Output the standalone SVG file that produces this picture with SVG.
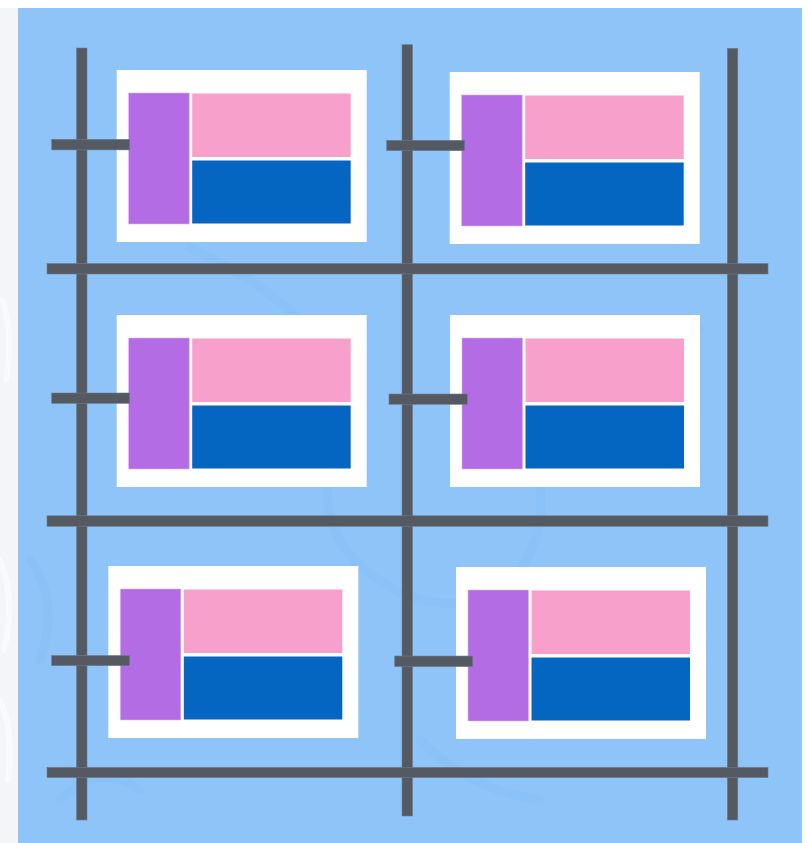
<svg xmlns="http://www.w3.org/2000/svg" width="809" height="843" viewBox="0 0 809 843">
  <style>
    .bar { fill: #545962; stroke: #6b7d90; stroke-width: 0.6; }
    .card { fill: #ffffff; }
    .purple { fill: #b36ce3; stroke: #d9b3f0; stroke-width: 0.6; }
    .pink { fill: #f8a0cc; }
    .blue { fill: #0466c0; }
    .wm { fill: none; stroke: #84bdf6; stroke-width: 9; opacity: 0.35; stroke-linecap: round; }
    .wmg { fill: none; stroke: #ffffff; stroke-width: 6; opacity: 0.5; stroke-linecap: round; }
  </style>
  <defs>
    <g id="cardTpl">
      <rect class="card" x="0" y="0" width="250" height="172"/>
      <rect class="purple" x="12" y="23" width="60.5" height="131"/>
      <rect class="pink" x="75.5" y="23.5" width="158.5" height="63.5"/>
      <rect class="blue" x="75.5" y="90.5" width="158.5" height="63"/>
    </g>
  </defs>

  <!-- page background -->
  <rect x="0" y="0" width="809" height="843" fill="#ffffff"/>
  <rect x="0" y="8" width="18" height="835" fill="#f4f5f7"/>
  <path class="wmg" d="M2 300 Q14 330 6 380 M0 560 Q16 600 4 650 M0 700 Q14 730 8 780"/>
  <rect x="18" y="8" width="784" height="835" fill="#8ec4f8"/>

  <!-- faint watermark -->
  <g id="watermark">
    <path class="wm" d="M190 248 Q300 300 330 360"/>
    <path class="wm" d="M330 460 Q310 560 420 600 Q520 620 540 520 Q550 440 470 420"/>
    <path class="wm" d="M700 330 Q620 300 580 360"/>
    <path class="wm" d="M30 560 Q60 600 40 660"/>
    <path class="wm" d="M420 740 Q470 790 540 800"/>
    <path class="wm" d="M60 800 Q100 760 140 790"/>
  </g>

  <!-- nodes -->
  <g id="node1"><use href="#cardTpl" transform="translate(116.7,70)"/></g>
  <g id="node2"><use href="#cardTpl" transform="translate(449.7,72)"/></g>
  <g id="node3"><use href="#cardTpl" transform="translate(116.7,315)"/></g>
  <g id="node4"><use href="#cardTpl" transform="translate(450,315)"/></g>
  <g id="node5"><use href="#cardTpl" transform="translate(108.3,566)"/></g>
  <g id="node6"><use href="#cardTpl" transform="translate(456,567)"/></g>

  <!-- connectors (scaffold bars) -->
  <g id="connectors">
    <rect class="bar" x="76.5" y="48" width="10.5" height="772"/>
    <rect class="bar" x="402" y="44.7" width="10.5" height="771.3"/>
    <rect class="bar" x="727.3" y="48.3" width="10.5" height="771.7"/>
    <rect class="bar" x="47" y="263.5" width="721" height="10.5"/>
    <rect class="bar" x="47" y="515.8" width="721" height="10.5"/>
    <rect class="bar" x="47" y="767.3" width="721" height="10.3"/>
    <rect class="bar" x="51.7" y="139.3" width="78" height="10.6"/>
    <rect class="bar" x="386.7" y="140.3" width="78" height="10.4"/>
    <rect class="bar" x="51.7" y="393" width="78" height="10.3"/>
    <rect class="bar" x="389" y="394" width="78.3" height="10.3"/>
    <rect class="bar" x="51.7" y="655.5" width="78" height="10.2"/>
    <rect class="bar" x="394.7" y="656" width="78" height="10.6"/>
  </g>
</svg>
